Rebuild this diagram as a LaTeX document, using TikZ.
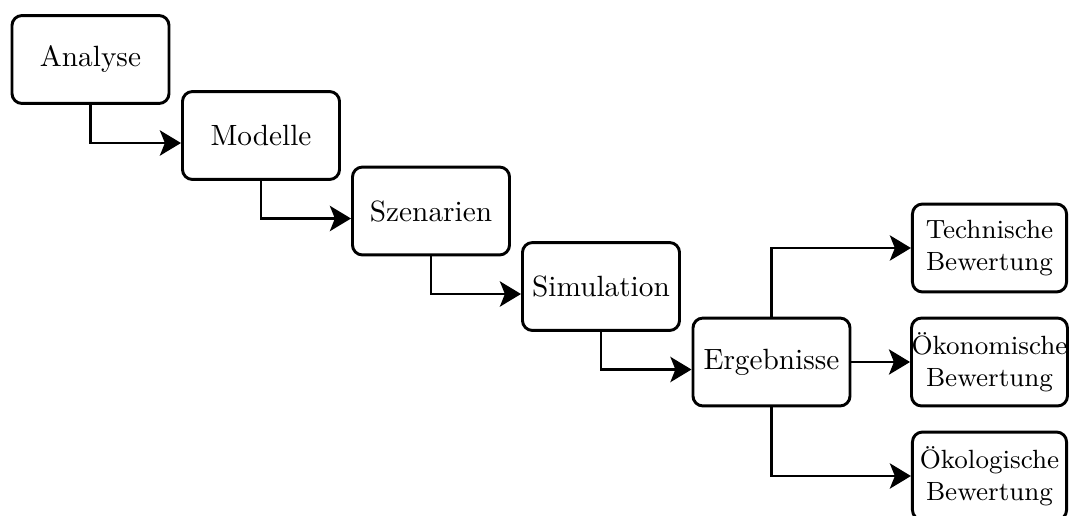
\documentclass[tikz,border=0pt]{standalone}
\usetikzlibrary{arrows.meta}
\begin{document}
\begin{tikzpicture}[x=0.3413pt,y=-0.3413pt,
  box/.style={draw, line width=1pt, rounded corners=3.4pt,
    minimum width=53.6pt, minimum height=30pt, inner sep=0pt, align=center},
  evalbox/.style={box, minimum width=52.6pt, font=\small},
  arr/.style={line width=1pt, -{Stealth[length=7.2pt, width=8.6pt, inset=1.7pt]}}]
\useasboundingbox (0,0) rectangle (1070,515);
% process chain
\node[box] (ana) at (90.5,59.5) {Analyse};
\node[box] (mod) at (261,135.5) {Modelle};
\node[box] (sze) at (431,211) {Szenarien};
\node[box] (sim) at (601,286.5) {Simulation};
\node[box] (erg) at (771.5,362) {Ergebnisse};
% evaluations
\node[evalbox] (tec) at (989.5,248) {Technische\\Bewertung};
\node[evalbox] (oek) at (989.5,362) {Ökonomische\\Bewertung};
\node[evalbox] (oko) at (989.5,476) {Ökologische\\Bewertung};
% connectors
\draw[arr] (ana.south) |- ([yshift=-2.56pt]mod.west);
\draw[arr] (mod.south) |- ([yshift=-2.56pt]sze.west);
\draw[arr] (sze.south) |- ([yshift=-2.56pt]sim.west);
\draw[arr] (sim.south) |- ([yshift=-2.56pt]erg.west);
\draw[arr] (erg.north) |- (tec.west);
\draw[arr] (erg.east) -- (oek.west);
\draw[arr] (erg.south) |- (oko.west);
\end{tikzpicture}
\end{document}
